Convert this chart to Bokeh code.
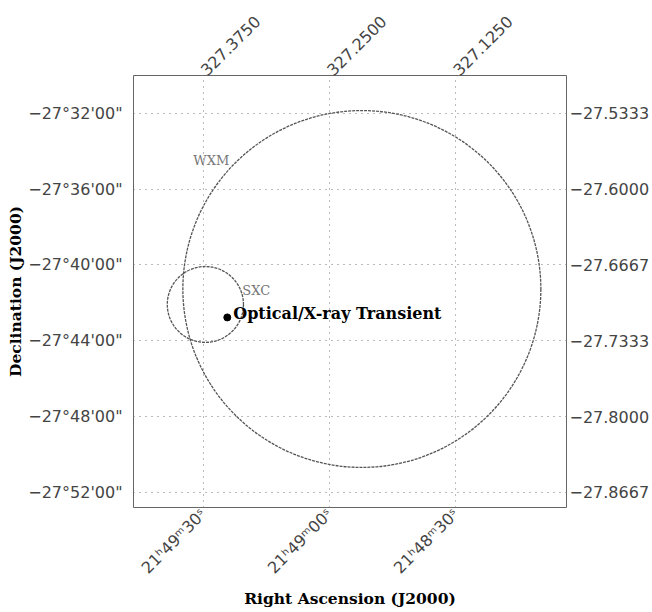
import math
from bokeh.plotting import figure
from bokeh.models import Range1d, LinearAxis, FixedTicker, CustomJSTickFormatter, ColumnDataSource
from bokeh.core.properties import value
from bokeh.embed import file_html
from bokeh.resources import INLINE

# ---- data ----
ra_ticks = [327.375, 327.25, 327.125]
ra_hms_labels = ["21ʰ49ᵐ30ˢ", "21ʰ49ᵐ00ˢ", "21ʰ48ᵐ30ˢ"]
ra_deg_labels = ["327.3750", "327.2500", "327.1250"]

dec_ticks = [-27.533333, -27.6, -27.666667, -27.733333, -27.8, -27.866667]
dec_dms_labels = ["−27°32'00\"", "−27°36'00\"", "−27°40'00\"",
                  "−27°44'00\"", "−27°48'00\"", "−27°52'00\""]
dec_deg_labels = ["−27.5333", "−27.6000", "−27.6667", "−27.7333", "−27.8000", "−27.8667"]

region_names = ["WXM", "SXC"]
region_ra = [327.218, 327.373]
region_dec = [-27.6878, -27.7014]
region_radius = [0.157, 0.0334]  # degrees

region_label_ra = [327.385, 327.3365]
region_label_dec = [-27.5748, -27.689]

transient_ra = [327.3513]
transient_dec = [-27.7128]
transient_label = ["Optical/X-ray Transient"]
transient_label_ra = [327.3454]
transient_label_dec = [-27.7093]

ra_view = (327.4442, 327.0153)
dec_view = (-27.88, -27.50)

# ---- helpers ----
def fmt(vals, labs):
    return CustomJSTickFormatter(args=dict(vals=vals, labs=labs), code="""
        let b = 0;
        for (let k = 0; k < vals.length; k++) {
            if (Math.abs(vals[k] - tick) < Math.abs(vals[b] - tick)) b = k;
        }
        return labs[b];
    """)

p = figure(width=652, height=612, output_backend="svg", toolbar_location=None,
           x_range=Range1d(*ra_view), y_range=Range1d(*dec_view),
           min_border_left=133, min_border_right=85, min_border_top=75, min_border_bottom=105)
p.background_fill_color = "white"
p.border_fill_color = "white"
p.outline_line_color = "#666666"
p.outline_line_width = 1

def style_axis(ax):
    ax.axis_line_color = None
    ax.major_tick_line_color = None
    ax.minor_tick_line_color = None
    ax.major_tick_out = 0
    ax.major_tick_in = 0
    ax.minor_tick_out = 0
    ax.minor_tick_in = 0
    ax.major_label_text_font = "DejaVu Sans"
    ax.major_label_text_font_size = "16px"
    ax.major_label_text_color = "#444444"

def style_title(ax, text, standoff):
    ax.axis_label = text
    ax.axis_label_text_font = "DejaVu Serif"
    ax.axis_label_text_font_style = "bold"
    ax.axis_label_text_font_size = "15.5px"
    ax.axis_label_text_color = "black"
    ax.axis_label_standoff = standoff

xb = p.xaxis[0]
xb.ticker = FixedTicker(ticks=ra_ticks)
xb.formatter = fmt(ra_ticks, ra_hms_labels)
style_axis(xb)
xb.major_label_orientation = math.pi / 4
xb.major_label_standoff = 4
style_title(xb, "Right Ascension (J2000)", 2)

yl = p.yaxis[0]
yl.ticker = FixedTicker(ticks=dec_ticks)
yl.formatter = fmt(dec_ticks, dec_dms_labels)
style_axis(yl)
yl.major_label_standoff = 11
style_title(yl, "Declination (J2000)", 0)

xt = LinearAxis(ticker=FixedTicker(ticks=ra_ticks), formatter=fmt(ra_ticks, ra_deg_labels))
style_axis(xt)
xt.major_label_orientation = math.pi / 4
xt.major_label_standoff = 3
p.add_layout(xt, "above")

yr = LinearAxis(ticker=FixedTicker(ticks=dec_ticks), formatter=fmt(dec_ticks, dec_deg_labels))
style_axis(yr)
yr.major_label_standoff = 3
p.add_layout(yr, "right")

for g, t in ((p.xgrid[0], ra_ticks), (p.ygrid[0], dec_ticks)):
    g.ticker = FixedTicker(ticks=t)
    g.grid_line_color = "#777777"
    g.grid_line_dash = "1 5"
    g.grid_line_width = 1

# circles drawn on the sky: RA width scaled by 1/cos(dec)
cos_d = [math.cos(math.radians(d)) for d in region_dec]
src = ColumnDataSource(dict(
    x=region_ra, y=region_dec,
    w=[2 * r / c for r, c in zip(region_radius, cos_d)],
    h=[2 * r for r in region_radius],
))
p.ellipse(x="x", y="y", width="w", height="h", source=src,
          fill_color=None, line_color="#555555", line_width=1.3, line_dash="3 1")

p.text(x=region_label_ra, y=region_label_dec, text=region_names,
       text_font=value("DejaVu Serif"), text_font_size="13px",
       text_color="#777777", text_baseline="middle", text_align="left")

p.scatter(x=transient_ra, y=transient_dec, size=7, color="black")
p.text(x=transient_label_ra, y=transient_label_dec, text=transient_label,
       text_font=value("DejaVu Serif"), text_font_size="16px", text_font_style="bold",
       text_color="black", text_baseline="middle", text_align="left")

open("out.html", "w").write(file_html(p, INLINE))
